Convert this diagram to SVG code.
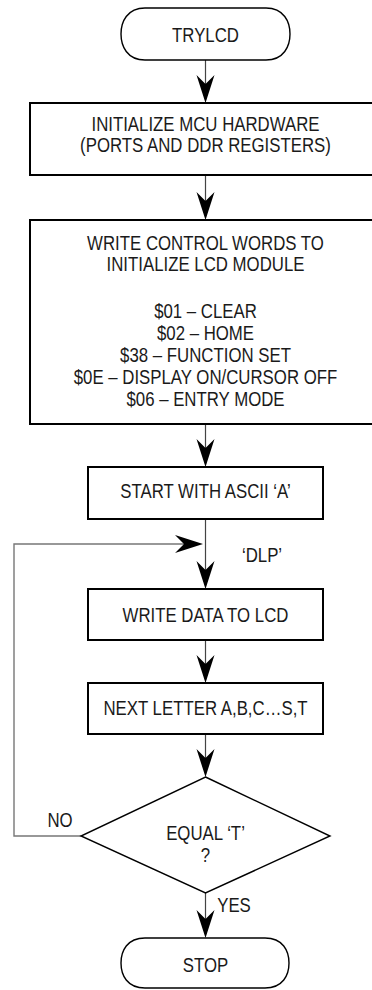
<svg xmlns="http://www.w3.org/2000/svg" width="372" height="990" viewBox="0 0 372 990">
<defs>
<style>
.t{font-family:"Liberation Sans",Arial,sans-serif;font-size:20.5px;fill:#1a1a1a;text-anchor:middle}
.box{fill:#fff;stroke:#000;stroke-width:2}
.term{fill:#fff;stroke:#000;stroke-width:1.4}
.ln{fill:none;stroke:#444;stroke-width:1.2}
.loop{fill:none;stroke:#777;stroke-width:1.4}
.ah{fill:#000}
</style>
<path id="down" d="M0,0 L-9,-28 L0,-19 L9,-28 Z"/>
</defs>
<rect width="372" height="990" fill="#fff"/>
<g id="connectors">
<line class="ln" x1="205.5" y1="60" x2="205.5" y2="100"/>
<use href="#down" class="ah" x="205.5" y="103"/>
<line class="ln" x1="205.5" y1="175" x2="205.5" y2="217"/>
<use href="#down" class="ah" x="205.5" y="220"/>
<line class="ln" x1="205.5" y1="424" x2="205.5" y2="464"/>
<use href="#down" class="ah" x="205.5" y="467"/>
<line class="ln" x1="205.5" y1="519" x2="205.5" y2="586"/>
<use href="#down" class="ah" x="205.5" y="589"/>
<polyline class="loop" points="81,836 14,836 14,544 200,544"/>
<path class="ah" d="M203,544 L175,535 L184,544 L175,553 Z"/>
<line class="ln" x1="205.5" y1="640" x2="205.5" y2="680"/>
<use href="#down" class="ah" x="205.5" y="683"/>
<line class="ln" x1="205.5" y1="734" x2="205.5" y2="774"/>
<use href="#down" class="ah" x="205.5" y="777"/>
<line class="ln" x1="205.5" y1="893" x2="205.5" y2="935"/>
<use href="#down" class="ah" x="205.5" y="938"/>
<text class="t" transform="translate(262 562) scale(0.82 1)">‘DLP’</text>
<text class="t" transform="translate(60 827) scale(0.82 1)">NO</text>
<text class="t" transform="translate(234 912) scale(0.82 1)">YES</text>
</g>
<g id="trylcd">
<path class="term" d="M145,8 H266 C284,8 290,22 290,34 C290,46 284,60 266,60 H145 C127,60 121,46 121,34 C121,22 127,8 145,8 Z"/>
<text class="t" transform="translate(205.5 42) scale(0.82 1)">TRYLCD</text>
</g>
<g id="init-mcu">
<rect class="box" x="30" y="103" width="352" height="72"/>
<text class="t" transform="translate(205.5 131) scale(0.82 1)">INITIALIZE MCU HARDWARE</text>
<text class="t" transform="translate(205.5 152) scale(0.82 1)">(PORTS AND DDR REGISTERS)</text>
</g>
<g id="init-lcd">
<rect class="box" x="30" y="220" width="352" height="204"/>
<text class="t" transform="translate(205.5 250) scale(0.82 1)">WRITE CONTROL WORDS TO</text>
<text class="t" transform="translate(205.5 271) scale(0.82 1)">INITIALIZE LCD MODULE</text>
<text class="t" transform="translate(205.5 318) scale(0.82 1)">$01 – CLEAR</text>
<text class="t" transform="translate(205.5 340) scale(0.82 1)">$02 – HOME</text>
<text class="t" transform="translate(205.5 362) scale(0.82 1)">$38 – FUNCTION SET</text>
<text class="t" transform="translate(205.5 384) scale(0.82 1)">$0E – DISPLAY ON/CURSOR OFF</text>
<text class="t" transform="translate(205.5 406) scale(0.82 1)">$06 – ENTRY MODE</text>
</g>
<g id="start-a">
<rect class="box" x="88" y="467" width="235" height="52"/>
<text class="t" transform="translate(205.5 498) scale(0.82 1)">START WITH ASCII ‘A’</text>
</g>
<g id="write-data">
<rect class="box" x="88" y="589" width="235" height="51"/>
<text class="t" transform="translate(205.5 622) scale(0.82 1)">WRITE DATA TO LCD</text>
</g>
<g id="next-letter">
<rect class="box" x="88" y="683" width="235" height="51"/>
<text class="t" transform="translate(205.5 715) scale(0.82 1)">NEXT LETTER A,B,C…S,T</text>
</g>
<g id="equal-t">
<path class="term" d="M205.5,777 L330,836 L205.5,893 L81,836 Z"/>
<text class="t" transform="translate(205.5 840) scale(0.82 1)">EQUAL ‘T’</text>
<text class="t" transform="translate(205.5 862) scale(0.82 1)">?</text>
</g>
<g id="stop">
<path class="term" d="M145,938 H265 C283,938 289,951 289,963 C289,975 283,988 265,988 H145 C127,988 121,975 121,963 C121,951 127,938 145,938 Z"/>
<text class="t" transform="translate(205.5 972) scale(0.82 1)">STOP</text>
</g>
</svg>
